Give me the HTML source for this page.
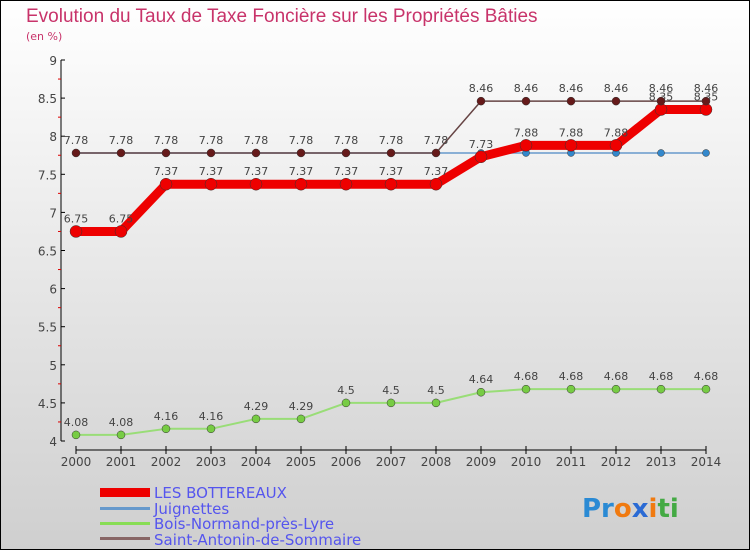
<!DOCTYPE html>
<html><head><meta charset="utf-8"><style>
html,body{margin:0;padding:0}
body{width:750px;height:550px;overflow:hidden;font-family:"DejaVu Sans","Liberation Sans",sans-serif}
</style></head><body>
<svg id="chart" width="750" height="550" xmlns="http://www.w3.org/2000/svg">
<defs><linearGradient id="bg" x1="0" y1="0" x2="0" y2="1"><stop offset="0" stop-color="#ffffff"/><stop offset="1" stop-color="#cfcfcf"/></linearGradient></defs>
<rect x="0.5" y="0.5" width="749" height="549" fill="url(#bg)" stroke="#000"/>
<text x="26" y="22" font-size="19" fill="#c8336a" font-family="Liberation Sans, sans-serif">Evolution du Taux de Taxe Foncière sur les Propriétés Bâties</text>
<text x="26" y="40" font-size="11" fill="#c8336a">(en %)</text>
<g id="axes"></g><g id="series"></g>
<g>
<rect x="100" y="488" width="50" height="9" fill="#e00"/>
<text x="154" y="498" font-size="15" fill="#5555ee">LES BOTTEREAUX</text>
<rect x="100" y="507" width="50" height="3" fill="#6699cc"/>
<text x="154" y="514" font-size="15" fill="#5555ee">Juignettes</text>
<rect x="100" y="522" width="50" height="3" fill="#88dd55"/>
<text x="154" y="529" font-size="15" fill="#5555ee">Bois-Normand-près-Lyre</text>
<rect x="100" y="537" width="50" height="3" fill="#886666"/>
<text x="154" y="545" font-size="15" fill="#5555ee">Saint-Antonin-de-Sommaire</text>
</g>
<text x="582" y="517" font-size="26" font-weight="bold" font-family="DejaVu Sans, sans-serif"><tspan fill="#2a8ad4">Pr</tspan><tspan fill="#f07a10">o</tspan><tspan fill="#2a6ad4">x</tspan><tspan fill="#f07a10">i</tspan><tspan fill="#44aa44">ti</tspan></text>
</svg>
<script>
const years=[2000,2001,2002,2003,2004,2005,2006,2007,2008,2009,2010,2011,2012,2013,2014];
const yTicks=[4,4.5,5,5.5,6,6.5,7,7.5,8,8.5,9];
const bottereaux=[6.75,6.75,7.37,7.37,7.37,7.37,7.37,7.37,7.37,7.73,7.88,7.88,7.88,8.35,8.35];
const juignettes=[7.78,7.78,7.78,7.78,7.78,7.78,7.78,7.78,7.78,7.78,7.78,7.78,7.78,7.78,7.78];
const boisNormand=[4.08,4.08,4.16,4.16,4.29,4.29,4.5,4.5,4.5,4.64,4.68,4.68,4.68,4.68,4.68];
const saintAntonin=[7.78,7.78,7.78,7.78,7.78,7.78,7.78,7.78,7.78,8.46,8.46,8.46,8.46,8.46,8.46];
const NS='http://www.w3.org/2000/svg';
const X=i=>76+i*45;
const Y=v=>441-(v-4)*76.2;
function mk(t,a,p){const e=document.createElementNS(NS,t);for(const k in a)e.setAttribute(k,a[k]);p.appendChild(e);return e;}
const ax=document.getElementById('axes'),sg=document.getElementById('series');
const yl=mk('line',{x1:61,y1:Y(9),x2:61,y2:Y(4),stroke:'#000'},ax);


yTicks.forEach(v=>{
  mk('line',{x1:61,y1:Y(v),x2:65,y2:Y(v),stroke:'#000'},ax);
  mk('line',{x1:58,y1:Y(v+0.25),x2:61,y2:Y(v+0.25),stroke:v<9?'#d00':'none'},ax);
  const t=mk('text',{x:57,y:Y(v)+5,'text-anchor':'end','font-size':12,fill:'#444'},ax);
  t.textContent=String(v);
  
  
});
const xl=mk('line',{x1:X(0),y1:450,x2:X(14),y2:450,stroke:'#000'},ax);


years.forEach((yr,i)=>{
  mk('line',{x1:X(i),y1:446,x2:X(i),y2:454,stroke:'#000'},ax);
  const t=mk('text',{x:X(i),y:466,'text-anchor':'middle','font-size':12,fill:'#444'},ax);
  t.textContent=String(yr);
  
  
});
function draw(data,name,color,w,r,fill,labels){
  const g=mk('g',{},sg);
  
  
  const pl=mk('polyline',{points:data.map((v,i)=>X(i)+','+Y(v)).join(' '),fill:'none',stroke:color,'stroke-width':w,'stroke-linejoin':'round'},g);
  
  
  data.forEach((v,i)=>{
    const c=mk('circle',{cx:X(i),cy:Y(v),r:r,fill:fill,stroke:'#333','stroke-width':0.5},g);
    
    
    if(labels){
      const t=mk('text',{x:X(i),y:Y(v)-9,'text-anchor':'middle','font-size':11,fill:'#444'},g);
      t.textContent=String(v);
      
      
    }
  });
}
draw(boisNormand,'bois-normand','#99dd77',2,4,'#77cc44',true);
draw(juignettes,'juignettes','#6699cc',1.5,3.5,'#3388cc',false);
draw(bottereaux,'les-bottereaux','#ee0000',9,6,'#ee0000',true);
draw(saintAntonin,'saint-antonin','#664444',1.5,4,'#661a1a',true);
</script>
</body></html>
